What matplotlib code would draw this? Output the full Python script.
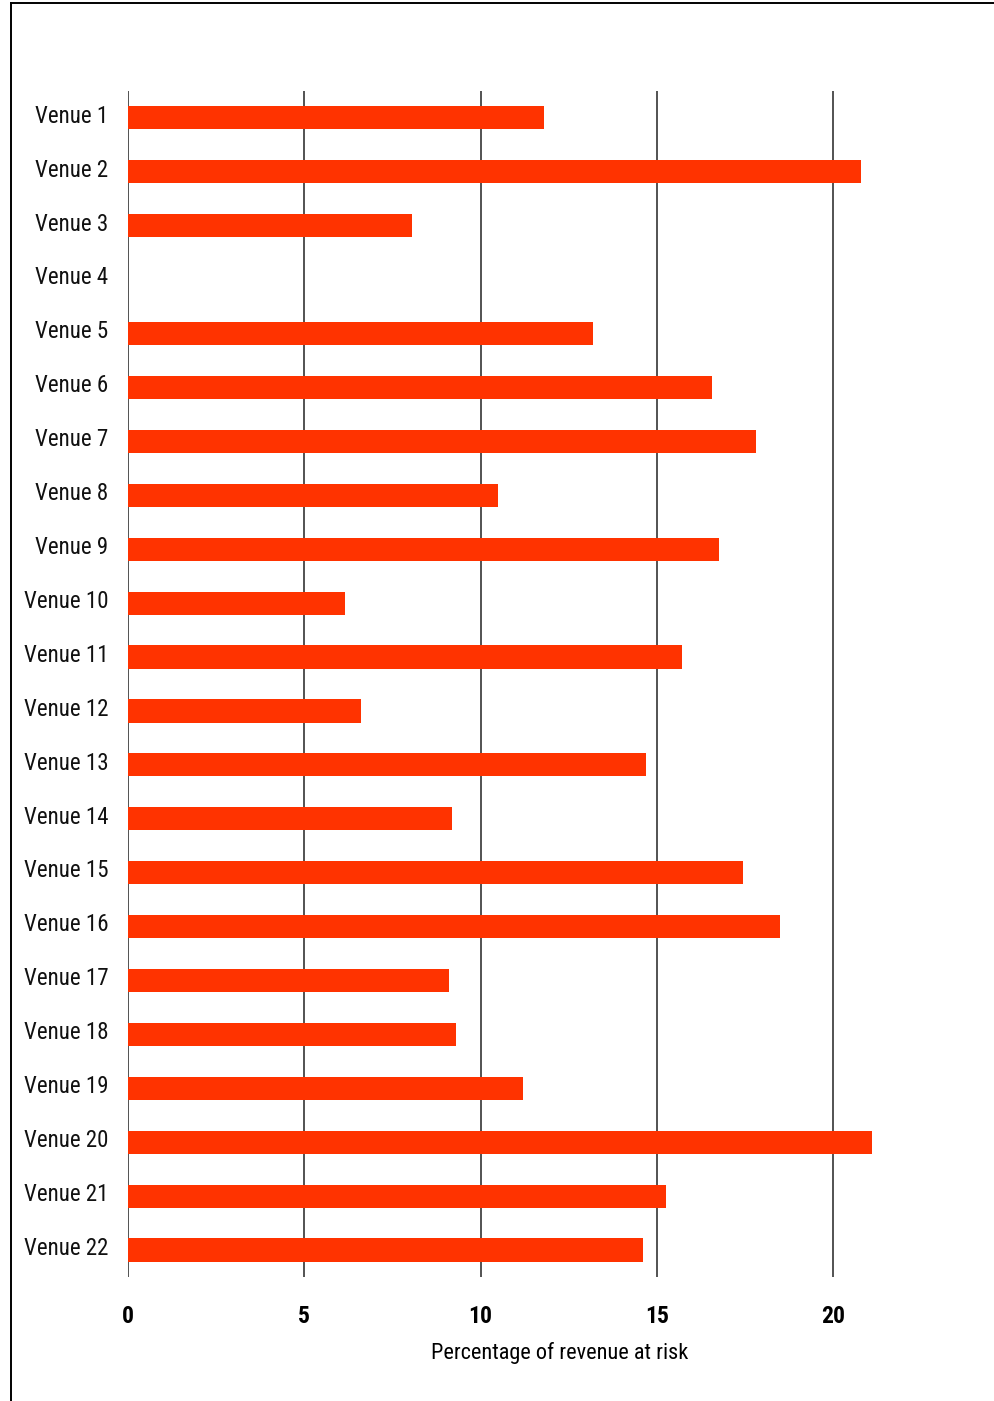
import matplotlib.pyplot as plt
from matplotlib import font_manager
from matplotlib.lines import Line2D
from matplotlib.transforms import ScaledTranslation

venues = ["Venue %d" % i for i in range(1, 23)]
risk_pct = [11.8, 20.8, 8.05, 0.0, 13.2, 16.55, 17.8, 10.5, 16.75, 6.15, 15.7,
            6.6, 14.7, 9.2, 17.45, 18.5, 9.1, 9.3, 11.2, 21.1, 15.25, 14.6]
xticks = [0, 5, 10, 15, 20]

# narrow sans for all text, first one that is installed
names = {f.name for f in font_manager.fontManager.ttflist}
prefs = ["Liberation Sans Narrow", "Roboto Condensed", "PT Sans Narrow",
         "Archivo Narrow", "Liberation Sans"]
fam = next(p for p in prefs if p in names)
plt.rcParams['font.family'] = [fam, 'DejaVu Sans']

fig = plt.figure(figsize=(9.94, 14.01), dpi=100)
ax = fig.add_axes([0.1288, 0.0885, 0.869, 0.8466])

ax.barh(range(len(venues)), risk_pct, height=0.43, color="#ff3300", zorder=3)
ax.set_ylim(len(venues) - 0.5, -0.5)
ax.set_xlim(0, 24.5)

ax.set_yticks(range(len(venues)))
ax.set_yticklabels(venues, fontsize=16.5, color="#111111")
ax.set_xticks(xticks)
ax.set_xticklabels([str(t) for t in xticks], fontsize=17, fontweight="bold")
ax.tick_params(axis="y", length=0, pad=14)
ax.tick_params(axis="x", length=0, pad=20)

# venue names sit a little above the bar centres
shift = ScaledTranslation(0, 3 / 72, fig.dpi_scale_trans)
for lbl in ax.get_yticklabels():
    lbl.set_transform(lbl.get_transform() + shift)

for t in xticks:
    ax.axvline(t, color="#444444", lw=1.3, zorder=1)

for s in ax.spines.values():
    s.set_visible(False)

ax.set_xlabel("Percentage of revenue at risk", fontsize=16, labelpad=10)

# outer frame (top and left edges)
fig.add_artist(Line2D([11 / 994, 1.0], [1 - 3 / 1401, 1 - 3 / 1401], color="black", lw=1.4,
                      transform=fig.transFigure))
fig.add_artist(Line2D([11 / 994, 11 / 994], [0, 1 - 3 / 1401], color="black", lw=1.4,
                      transform=fig.transFigure))

fig.savefig("out.png", dpi=100)
